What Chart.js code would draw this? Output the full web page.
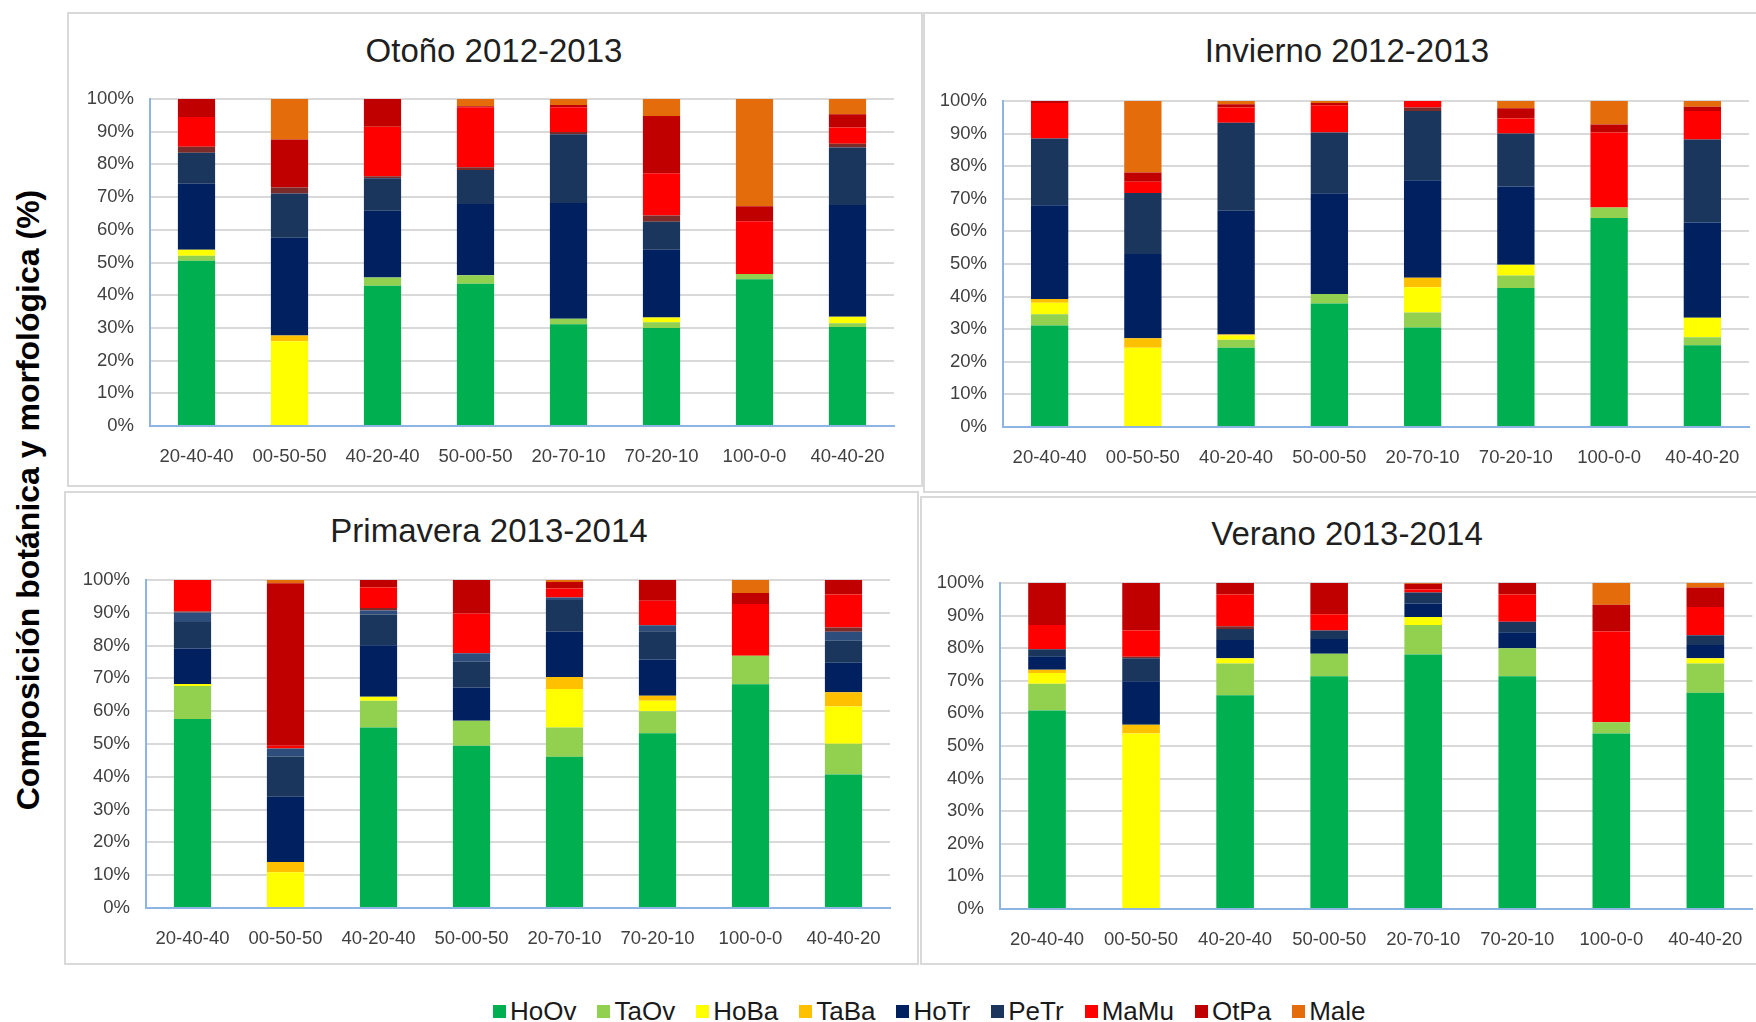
<!DOCTYPE html>
<html>
<head>
<meta charset="utf-8">
<script src="https://cdn.jsdelivr.net/npm/chart.js@4.4.1/dist/chart.umd.min.js"></script>
<style>
  html, body { margin: 0; padding: 0; background: #fff; overflow: hidden; }
  #page { position: relative; width: 1756px; height: 1022px; overflow: hidden; font-family: "Liberation Sans", Arial, sans-serif; }
  .panel { position: absolute; box-sizing: border-box; border: 2px solid #D9D9D9; }
  .ptitle { position: absolute; transform: translate(-50%, -50%); white-space: nowrap; font-size: 33px; line-height: 1; color: #1f1f1f; }
  canvas { position: absolute; }
  #ylabel { position: absolute; left: 28px; top: 500px; transform: translate(-50%, -50%) rotate(-90deg);
            white-space: nowrap; font-weight: bold; font-size: 32px; color: #000; }
  #legend { position: absolute; left: 493px; top: 996px; height: 30px; display: flex; align-items: center; gap: 21px;
            font-size: 26px; line-height: 1; color: #1a1a1a; white-space: nowrap; }
  #legend span.item { display: flex; align-items: center; gap: 4px; }
  #legend span.box { width: 13px; height: 13px; display: inline-block; }
</style>
</head>
<body>
<div id="page">
  <div id="ylabel">Composición botánica y morfológica (%)</div>
  <div id="legend"></div>
</div>
<script>
const categories = ["20-40-40", "00-50-50", "40-20-40", "50-00-50", "20-70-10", "70-20-10", "100-0-0", "40-40-20"];
const seriesNames = ["HoOv", "TaOv", "HoBa", "TaBa", "HoTr", "PeTr", "PeTr-b", "Otro", "MaMu", "OtPa", "Male"];
const seriesColors = ["#00B050", "#92D050", "#FFFF00", "#FFC000", "#002060", "#1A365D", "#2D4E7C", "#7A2B2A", "#FF0000", "#C00000", "#E46C0A"];
const legendSeries = ["HoOv", "TaOv", "HoBa", "TaBa", "HoTr", "PeTr", "MaMu", "OtPa", "Male"];
const yTicks = [0, 10, 20, 30, 40, 50, 60, 70, 80, 90, 100];

// rows follow seriesNames, columns follow categories (%)
const otono = [
  [50.5, 0, 42.9, 43.5, 31.1, 30.0, 44.9, 30.3],
  [1.6, 0, 2.5, 2.6, 1.7, 1.7, 1.6, 1.1],
  [1.8, 25.9, 0, 0, 0, 1.5, 0, 2.0],
  [0, 1.8, 0, 0, 0, 0, 0, 0],
  [20.2, 29.9, 20.4, 21.8, 35.4, 20.7, 0, 34.2],
  [9.5, 13.5, 10.0, 10.4, 21.0, 8.6, 0, 17.6],
  [0, 0, 0, 0, 0, 0, 0, 0],
  [1.8, 1.8, 0.6, 0.8, 0.7, 1.9, 0, 1.1],
  [9.1, 0, 15.1, 18.4, 7.6, 12.9, 16.1, 5.0],
  [5.5, 14.7, 8.5, 0.3, 0.7, 17.5, 4.6, 4.0],
  [0, 12.4, 0, 2.2, 1.8, 5.2, 32.8, 4.7]
];
const invierno = [
  [31.1, 0, 24.3, 37.9, 30.5, 42.6, 64.1, 25.1],
  [3.5, 0, 2.5, 2.9, 4.6, 3.9, 3.2, 2.4],
  [3.5, 24.3, 1.3, 0, 7.8, 3.3, 0, 6.0],
  [1.2, 2.9, 0.3, 0, 2.9, 0, 0, 0],
  [28.7, 25.9, 37.9, 30.9, 29.9, 24.0, 0, 29.2],
  [20.5, 18.7, 27.0, 18.6, 21.2, 16.2, 0, 25.5],
  [0, 0, 0, 0, 0, 0, 0, 0],
  [0, 0, 0, 0, 1.1, 0, 0, 0],
  [10.9, 3.4, 4.7, 8.4, 2.0, 4.6, 23.0, 8.7],
  [0.6, 2.9, 1.0, 0.7, 0, 3.2, 2.5, 1.3],
  [0, 21.9, 1.0, 0.6, 0, 2.2, 7.2, 1.8]
];
const primavera = [
  [57.6, 0, 55.0, 49.5, 46.1, 53.3, 68.2, 40.7],
  [10.1, 0, 8.2, 7.6, 8.9, 6.7, 8.7, 9.4],
  [0.6, 10.9, 1.2, 0, 11.8, 3.2, 0, 11.3],
  [0, 3.1, 0, 0, 3.6, 1.5, 0, 4.4],
  [10.8, 19.9, 15.7, 10.1, 13.8, 11.1, 0, 9.0],
  [8.1, 12.3, 9.4, 7.9, 9.7, 8.6, 0, 6.7],
  [2.9, 2.4, 1.2, 2.6, 0.8, 1.8, 0, 2.7],
  [0.3, 0, 0.8, 0, 0, 0, 0, 1.3],
  [9.6, 0.9, 6.2, 12.1, 2.7, 7.5, 15.8, 10.1],
  [0, 49.5, 2.3, 10.2, 2.0, 6.3, 3.3, 4.4],
  [0, 1.0, 0, 0, 0.6, 0, 4.0, 0]
];
const verano = [
  [60.9, 0, 65.6, 71.4, 78.1, 71.4, 53.8, 66.3],
  [8.2, 0, 9.7, 6.9, 9.0, 8.6, 3.5, 9.0],
  [3.3, 53.8, 1.6, 0, 2.5, 0, 0, 1.6],
  [1.0, 2.7, 0, 0, 0, 0, 0, 0],
  [4.1, 13.4, 5.6, 4.5, 4.1, 4.9, 0, 4.1],
  [2.2, 7.0, 3.4, 2.6, 3.4, 3.2, 0, 3.0],
  [0, 0, 0, 0, 0, 0, 0, 0],
  [0, 0.5, 0.8, 0, 0, 0, 0, 0],
  [7.4, 8.0, 9.8, 5.0, 0.9, 8.4, 27.8, 8.6],
  [12.9, 14.6, 3.5, 9.6, 1.8, 3.5, 8.2, 6.0],
  [0, 0, 0, 0, 0.2, 0, 6.7, 1.4]
];

// panel boxes, title centres and the plot area inside each one
const panels = [
  { title: "Otoño 2012-2013", data: otono, x: 67, y: 12, w: 856, h: 475, tx: 494, ty: 50, axisL: 83, padR: 29, padT: 87, axisB: 61 },
  { title: "Invierno 2012-2013", data: invierno, x: 923, y: 12, w: 840, h: 481, tx: 1347, ty: 50, axisL: 80, padR: 14, padT: 89, axisB: 66 },
  { title: "Primavera 2013-2014", data: primavera, x: 64, y: 491, w: 855, h: 474, tx: 489, ty: 530, axisL: 82, padR: 29, padT: 89, axisB: 57 },
  { title: "Verano 2013-2014", data: verano, x: 920, y: 496, w: 843, h: 469, tx: 1347, ty: 533, axisL: 80, padR: 10, padT: 87, axisB: 56 }
];

const page = document.getElementById("page");
const fontFamily = "'Liberation Sans', Arial, sans-serif";

panels.forEach(p => {
  const box = document.createElement("div");
  box.className = "panel";
  box.style.left = p.x + "px"; box.style.top = p.y + "px";
  box.style.width = p.w + "px"; box.style.height = p.h + "px";
  page.appendChild(box);

  const t = document.createElement("div");
  t.className = "ptitle";
  t.style.left = p.tx + "px"; t.style.top = p.ty + "px";
  t.textContent = p.title;
  page.appendChild(t);

  const c = document.createElement("canvas");
  c.width = p.w; c.height = p.h;
  c.style.left = p.x + "px"; c.style.top = p.y + "px";
  page.appendChild(c);

  new Chart(c, {
    type: "bar",
    data: {
      labels: categories,
      datasets: seriesNames.map((n, i) => ({
        label: n,
        data: p.data[i],
        backgroundColor: seriesColors[i],
        borderWidth: 0,
        barPercentage: 0.4,
        categoryPercentage: 1
      }))
    },
    options: {
      responsive: false,
      animation: false,
      layout: { padding: { left: 0, right: p.padR, top: p.padT, bottom: 0 } },
      plugins: {
        legend: { display: false },
        tooltip: { enabled: false },
        title: { display: false }
      },
      scales: {
        x: {
          stacked: true,
          grid: { display: false, drawTicks: false },
          border: { display: true, color: "#8EB4E3", width: 2 },
          ticks: { color: "#404040", font: { family: fontFamily, size: 18.5 }, padding: 20, maxRotation: 0, autoSkip: false },
          afterFit: s => { s.height = p.axisB; }
        },
        y: {
          stacked: true, min: 0, max: 100,
          afterBuildTicks: s => { s.ticks = yTicks.map(v => ({ value: v })); },
          ticks: { color: "#404040", font: { family: fontFamily, size: 18.5 }, padding: 16, callback: v => v + "%" },
          grid: { color: "#D9D9D9", lineWidth: 2, drawTicks: false },
          border: { color: "#8EB4E3", width: 2 },
          afterFit: s => { s.width = p.axisL; }
        }
      }
    }
  });
});

const legend = document.getElementById("legend");
legendSeries.forEach(n => {
  const i = seriesNames.indexOf(n);
  const item = document.createElement("span");
  item.className = "item";
  const b = document.createElement("span");
  b.className = "box";
  b.style.background = seriesColors[i];
  const t = document.createElement("span");
  t.textContent = n;
  item.appendChild(b); item.appendChild(t);
  legend.appendChild(item);
});
</script>
</body>
</html>
